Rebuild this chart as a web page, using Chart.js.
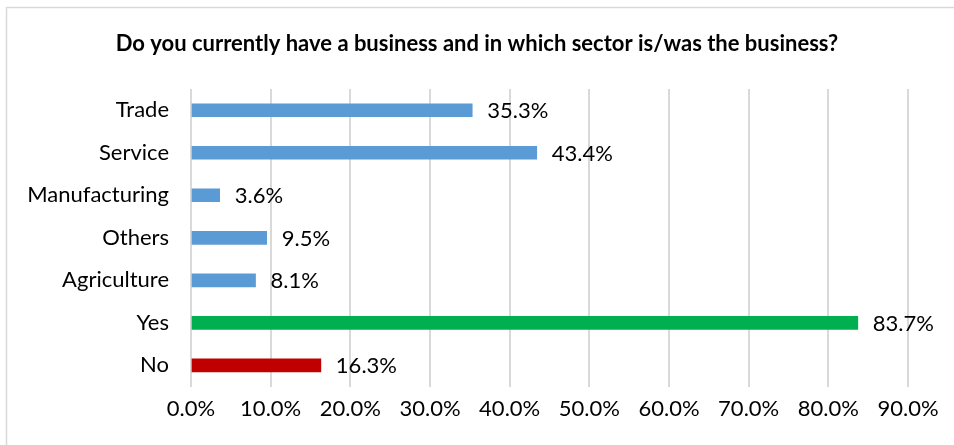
<!DOCTYPE html>
<html>
<head>
<meta charset="utf-8">
<script src="https://cdn.jsdelivr.net/npm/chart.js@4"></script>
<style>
  html, body { margin: 0; padding: 0; background: #fff; }
  #wrap { width: 954px; height: 445px; position: relative; }
</style>
</head>
<body>
<div id="wrap"><canvas id="chartSector"></canvas></div>
<script>
const categories = ["Trade", "Service", "Manufacturing", "Others", "Agriculture", "Yes", "No"];
const shares = [35.3, 43.4, 3.6, 9.5, 8.1, 83.7, 16.3];
const barColors = ["#5b9bd5", "#5b9bd5", "#5b9bd5", "#5b9bd5", "#5b9bd5", "#00b050", "#c00000"];
const xTicks = [0, 10, 20, 30, 40, 50, 60, 70, 80, 90];
const titleText = "Do you currently have a business and in which sector is/was the business?";

const fontFamily = "Lato, 'Open Sans', sans-serif";
const labelSize = 22;

// value label at the end of each bar
const barLabels = {
    id: 'barLabels',
    afterDatasetsDraw(chart) {
        const ctx = chart.ctx;
        const meta = chart.getDatasetMeta(0);
        ctx.save();
        ctx.font = labelSize + "px " + fontFamily;
        ctx.fillStyle = "#000";
        ctx.textAlign = "left";
        ctx.textBaseline = "middle";
        meta.data.forEach((bar, i) => {
            ctx.fillText(shares[i].toFixed(1) + "%", bar.x + 15, bar.y + 1);
        });
        ctx.restore();
    }
};

// light frame and the title, centred on the whole canvas
const frame = {
    id: 'frame',
    beforeDraw(chart) {
        const ctx = chart.ctx;
        ctx.save();
        ctx.strokeStyle = "#d9d9d9";
        ctx.lineWidth = 1.5;
        ctx.strokeRect(6.5, 7.5, 1000, 500);
        ctx.font = "bold 22px " + fontFamily;
        ctx.fillStyle = "#000";
        ctx.textAlign = "center";
        ctx.textBaseline = "middle";
        ctx.fillText(titleText, chart.width / 2, 44);
        ctx.restore();
    }
};

const chartSector = new Chart("chartSector", {
    type: "bar",
    data: {
        labels: categories,
        datasets: [{
            data: shares,
            backgroundColor: barColors,
            barThickness: 13
        }]
    },
    options: {
        indexAxis: 'y',
        responsive: true,
        maintainAspectRatio: false,
        animation: false,
        layout: { padding: { top: 89, right: 46, bottom: 14, left: 10 } },
        plugins: {
            legend: { display: false },
            tooltip: { enabled: false },
            title: { display: false }
        },
        scales: {
            x: {
                min: 0,
                max: 90,
                afterBuildTicks(scale) {
                    scale.ticks = xTicks.map(v => ({ value: v }));
                },
                ticks: {
                    color: "#000",
                    font: { family: fontFamily, size: labelSize },
                    padding: 9,
                    callback: v => v.toFixed(1) + "%"
                },
                grid: { color: "#d9d9d9", lineWidth: 2, drawTicks: false },
                border: { display: false }
            },
            y: {
                afterFit(scale) { scale.width = 181; },
                ticks: {
                    color: "#000",
                    font: { family: fontFamily, size: labelSize },
                    padding: 22
                },
                grid: { display: false, drawTicks: false },
                border: { display: false }
            }
        }
    },
    plugins: [barLabels, frame]
});
</script>
</body>
</html>
